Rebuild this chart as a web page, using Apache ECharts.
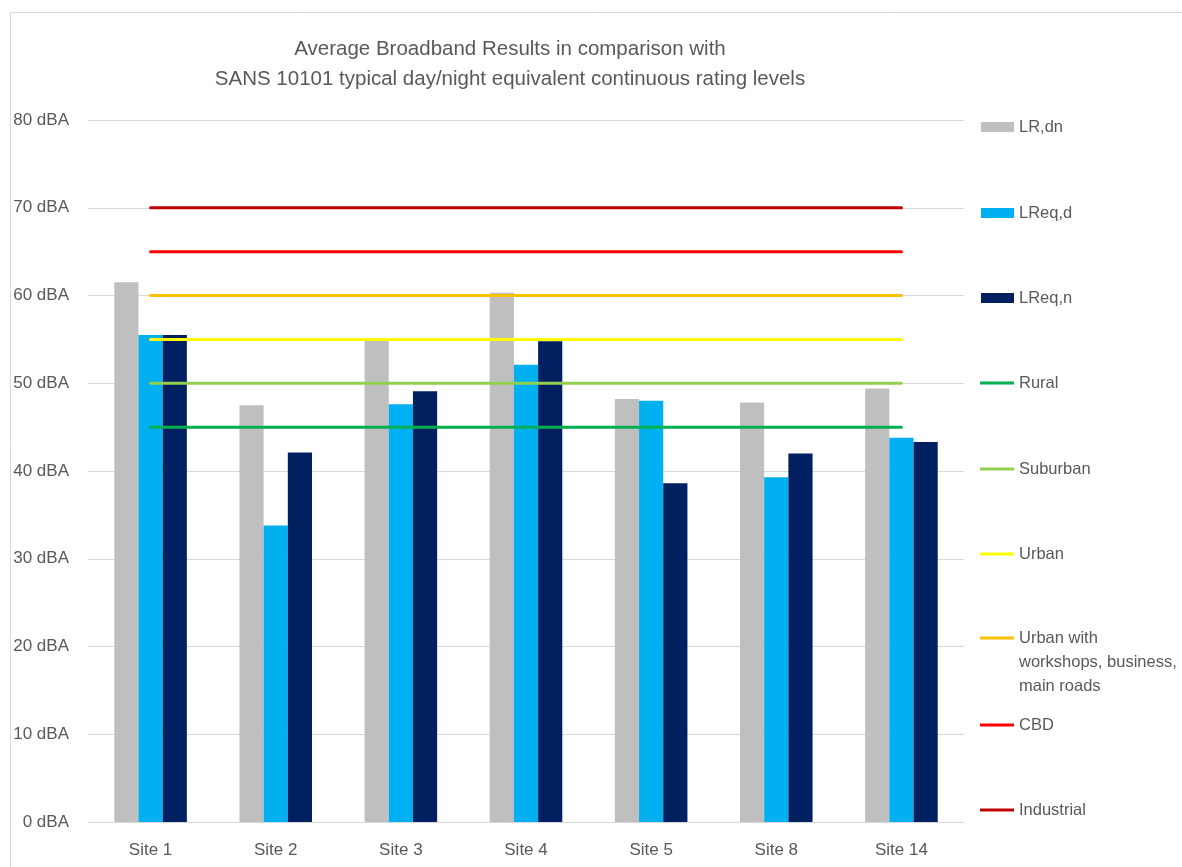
<!DOCTYPE html>
<html>
<head>
<meta charset="utf-8">
<script src="https://cdn.jsdelivr.net/npm/echarts@6/dist/echarts.min.js"></script>
<style>html,body{margin:0;padding:0;background:#fff}#c{width:1182px;height:867px}</style>
</head>
<body>
<div id="c"></div>
<script>
var categories = ['Site 1','Site 2','Site 3','Site 4','Site 5','Site 8','Site 14'];
var lrDn  = [61.5, 47.5, 54.9, 60.3, 48.2, 47.8, 49.4];
var lrEqD = [55.5, 33.8, 47.6, 52.1, 48.0, 39.3, 43.8];
var lrEqN = [55.5, 42.1, 49.1, 54.8, 38.6, 42.0, 43.3];
var rural      = [45,45,45,45,45,45,45];
var suburban   = [50,50,50,50,50,50,50];
var urban      = [55,55,55,55,55,55,55];
var urbanWork  = [60,60,60,60,60,60,60];
var cbd        = [65,65,65,65,65,65,65];
var industrial = [70,70,70,70,70,70,70];
var yTicks = {min:0, max:80, interval:10, unit:' dBA'};

var FONT = 'Liberation Sans, Arial, sans-serif';
var TXT = '#595959';
var chart = echarts.init(document.getElementById('c'));

var barNames = ['LR,dn','LReq,d','LReq,n'];
var barColors = ['#bfbfbf','#00b0f0','#002060'];
var barData = [lrDn, lrEqD, lrEqN];
var lineNames = ['Rural','Suburban','Urban','Urban with workshops, business, main roads','CBD','Industrial'];
var lineColors = ['#00b050','#92d050','#ffff00','#ffc000','#ff0000','#c00000'];
var lineData = [rural, suburban, urban, urbanWork, cbd, industrial];

var series = [];
barNames.forEach(function(n,i){
  series.push({name:n,type:'bar',data:barData[i],barGap:'0%',barCategoryGap:'42%',
    itemStyle:{color:barColors[i]},z:2});
});
lineNames.forEach(function(n,i){
  series.push({name:n,type:'line',data:lineData[i],symbol:'none',
    lineStyle:{color:lineColors[i],width:3,cap:'round'},itemStyle:{color:lineColors[i]},z:3});
});

var legendCenters = [125,211,296,381,467,552,638,723,808];
var allNames = barNames.concat(lineNames);
var legends = allNames.map(function(n,i){
  var isBar = i < 3;
  var multi = (n.indexOf('Urban with')===0);
  var l = {
    data:[{name:n, icon:'rect'}],
    orient:'vertical',
    left: isBar ? 981 : 980,
    top: legendCenters[i] - 10,
    padding:0,
    itemWidth: isBar ? 33 : 34,
    itemHeight: isBar ? 10 : 3,
    selectedMode:false,
    textStyle:{color:TXT,fontFamily:FONT,fontSize:16.5,lineHeight:24}
  };
  if (multi) {
    l.formatter = function(){ return '\n\nUrban with\nworkshops, business,\nmain roads'; };
    l.top = legendCenters[i] - 60;
  }
  return l;
});

chart.setOption({
  backgroundColor:'#fff',
  animation:false,
  title:{
    text:'Average Broadband Results in comparison with\nSANS 10101 typical day/night equivalent continuous rating levels',
    left:505, top:29, textAlign:'center',
    textStyle:{color:TXT,fontFamily:FONT,fontSize:20.5,fontWeight:'normal',lineHeight:30}
  },
  graphic:[{type:'rect',shape:{x:10.5,y:12.5,width:1200,height:900},
    style:{fill:'none',stroke:'#d9d9d9',lineWidth:1},silent:true}],
  legend: legends,
  grid:{left:88,right:218,top:120,bottom:45,containLabel:false},
  xAxis:{type:'category',data:categories,
    axisLine:{lineStyle:{color:'#d9d9d9',width:1}},
    axisTick:{show:false},
    axisLabel:{color:TXT,fontFamily:FONT,fontSize:17,margin:20}},
  yAxis:{type:'value',min:yTicks.min,max:yTicks.max,interval:yTicks.interval,
    axisLine:{show:false},axisTick:{show:false},
    splitLine:{lineStyle:{color:'#d9d9d9',width:1}},
    axisLabel:{color:TXT,fontFamily:FONT,fontSize:17,margin:19,
      formatter:function(v){return v + yTicks.unit;}}},
  series:series
});
</script>
</body>
</html>
